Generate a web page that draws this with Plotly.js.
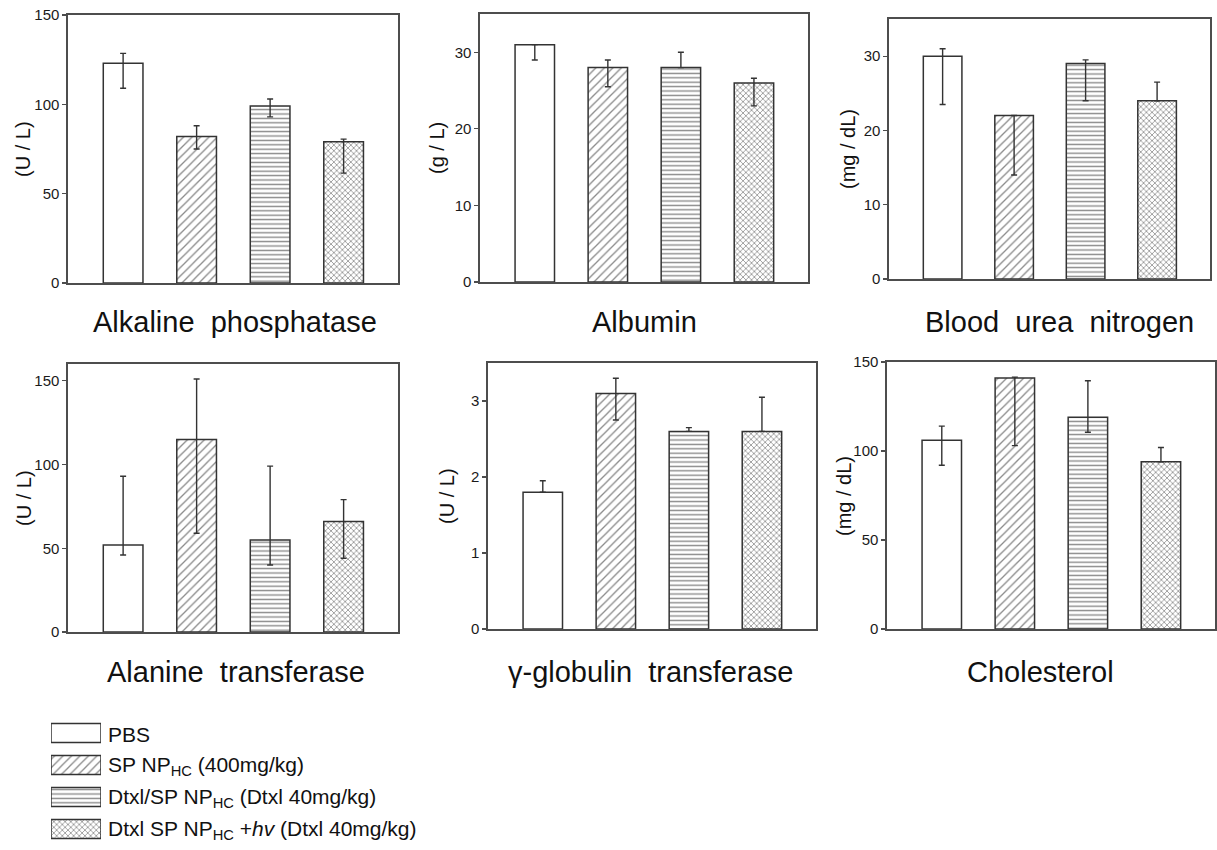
<!DOCTYPE html>
<html>
<head>
<meta charset="utf-8">
<script src="https://cdn.plot.ly/plotly-3.0.1.min.js"></script>
<style>
  html, body { margin: 0; padding: 0; background: #fff; }
  #chart { width: 1217px; height: 850px; }
</style>
</head>
<body>
<div id="chart"></div>
<script>
// Treatment groups (legend order and bar order in every panel)
const groups = [
  'PBS',
  'SP NP<sub>HC</sub> (400mg/kg)',
  'Dtxl/SP NP<sub>HC</sub> (Dtxl 40mg/kg)',
  'Dtxl SP NP<sub>HC</sub> +<i>hv</i> (Dtxl 40mg/kg)'
];

// Panel titles and units
const panelTitles = [
  'Alkaline  phosphatase', 'Albumin', 'Blood  urea  nitrogen',
  'Alanine  transferase', '\u03b3-globulin  transferase', 'Cholesterol'
];
const panelUnits = ['(U / L)', '(g / L)', '(mg / dL)', '(U / L)', '(U / L)', '(mg / dL)'];

// Serum biochemistry: mean values with upper / lower error
const alkalinePhosphatase      = [123, 82, 99, 79];
const alkalinePhosphatasePlus  = [5.5, 6, 4, 1.5];
const alkalinePhosphataseMinus = [14, 7, 6, 17.5];

const albumin      = [31, 28, 28, 26];
const albuminPlus  = [0, 1, 2, 0.6];
const albuminMinus = [2, 2.5, 0, 3];

const bloodUreaNitrogen      = [30, 22, 29, 24];
const bloodUreaNitrogenPlus  = [1, 0, 0.5, 2.5];
const bloodUreaNitrogenMinus = [6.5, 8, 5, 0];

const alanineTransferase      = [52, 115, 55, 66];
const alanineTransferasePlus  = [41, 36, 44, 13];
const alanineTransferaseMinus = [6, 56, 15, 22];

const gammaGlobulin      = [1.8, 3.1, 2.6, 2.6];
const gammaGlobulinPlus  = [0.15, 0.2, 0.05, 0.45];
const gammaGlobulinMinus = [0, 0.35, 0, 0];

const cholesterol      = [106, 141, 119, 94];
const cholesterolPlus  = [8, 0.5, 20.5, 8];
const cholesterolMinus = [14, 38, 8.5, 0];

// Axis ranges / tick steps per panel
const yRanges = [[0, 150], [0, 35], [0, 35], [0, 160], [0, 3.5], [0, 150]];
const yDticks = [50, 10, 10, 50, 1, 50];

const panelData = [
  [alkalinePhosphatase, alkalinePhosphatasePlus, alkalinePhosphataseMinus],
  [albumin, albuminPlus, albuminMinus],
  [bloodUreaNitrogen, bloodUreaNitrogenPlus, bloodUreaNitrogenMinus],
  [alanineTransferase, alanineTransferasePlus, alanineTransferaseMinus],
  [gammaGlobulin, gammaGlobulinPlus, gammaGlobulinMinus],
  [cholesterol, cholesterolPlus, cholesterolMinus]
];

// ---- layout geometry (pixels) ----
const W = 1217, H = 850;
const px = x => x / W;
const py = y => 1 - y / H;

// [left, right, top, bottom] of each plotting area
const boxes = [
  [68, 398, 15, 283],
  [480, 808, 14, 282],
  [889, 1210, 19, 279],
  [68, 398, 364, 632],
  [488, 816, 363, 629],
  [887, 1215, 362, 629]
];
const titlePos = [[235, 322], [644, 322], [1059, 322], [236, 672], [650, 672], [1040, 672]];
const unitPos = [[23, 149], [437, 148], [848, 149], [24, 498], [447, 496], [844, 496]];

const font = '"Liberation Sans", Arial, sans-serif';
const patternShapes = ['', '/', '-', 'x'];
const patternSizes = [6, 6, 4.4, 4];
const patternSolidity = [0.2, 0.22, 0.32, 0.35];

function patternedMarker() {
  return {
    color: '#ffffff',
    line: { color: '#333333', width: 1.5 },
    pattern: {
      shape: patternShapes,
      size: patternSizes,
      solidity: patternSolidity,
      fgcolor: '#8a8a8a',
      bgcolor: '#ffffff',
      fillmode: 'replace'
    }
  };
}

const traces = [];
const layout = {
  width: W, height: H,
  margin: { l: 0, r: 0, t: 0, b: 0 },
  paper_bgcolor: '#ffffff',
  plot_bgcolor: '#ffffff',
  showlegend: false,
  font: { family: font, color: '#111111' },
  annotations: []
};

panelData.forEach((d, i) => {
  const n = i + 1;
  const xa = 'x' + (n === 1 ? '' : n);
  const ya = 'y' + (n === 1 ? '' : n);
  traces.push({
    type: 'bar',
    x: groups,
    y: d[0],
    xaxis: xa, yaxis: ya,
    width: 0.54,
    marker: patternedMarker(),
    error_y: {
      type: 'data', symmetric: false,
      array: d[1], arrayminus: d[2],
      color: '#333333', thickness: 1.4, width: 3
    },
    hoverinfo: 'skip'
  });
  const b = boxes[i];
  layout['xaxis' + (n === 1 ? '' : n)] = {
    domain: [px(b[0]), px(b[1])],
    anchor: ya,
    range: [-0.75, 3.74],
    type: 'category',
    showticklabels: false, ticks: '',
    showgrid: false, zeroline: false,
    showline: true, mirror: true, linecolor: '#4d4d4d', linewidth: 1.6,
    fixedrange: true
  };
  layout['yaxis' + (n === 1 ? '' : n)] = {
    domain: [py(b[3]), py(b[2])],
    anchor: xa,
    range: yRanges[i],
    dtick: yDticks[i],
    tick0: 0,
    ticks: 'outside', ticklen: 4, tickwidth: 1.2, tickcolor: '#4d4d4d',
    tickfont: { family: font, size: 15, color: '#1a1a1a' },
    showgrid: false, zeroline: false,
    showline: true, mirror: true, linecolor: '#4d4d4d', linewidth: 1.6,
    fixedrange: true
  };
  layout.annotations.push({
    text: panelTitles[i], xref: 'paper', yref: 'paper',
    x: px(titlePos[i][0]), y: py(titlePos[i][1]),
    xanchor: 'center', yanchor: 'middle', showarrow: false,
    font: { family: font, size: 29, color: '#111111' }
  });
  layout.annotations.push({
    text: panelUnits[i], xref: 'paper', yref: 'paper',
    x: px(unitPos[i][0]), y: py(unitPos[i][1]),
    xanchor: 'center', yanchor: 'middle', showarrow: false, textangle: -90,
    font: { family: font, size: 20, color: '#111111' }
  });
});

// Legend drawn as a small horizontal bar axis so the swatches carry the same fills
const legendBox = [51, 101, 717, 845];
traces.push({
  type: 'bar', orientation: 'h',
  y: groups, x: groups.map(() => 1),
  xaxis: 'x7', yaxis: 'y7',
  width: 0.6,
  marker: patternedMarker(),
  hoverinfo: 'skip'
});
layout.xaxis7 = {
  domain: [px(legendBox[0]), px(legendBox[1])], anchor: 'y7',
  range: [0, 1], visible: false, fixedrange: true
};
layout.yaxis7 = {
  domain: [py(legendBox[3]), py(legendBox[2])], anchor: 'x7',
  type: 'category', autorange: 'reversed', visible: false, fixedrange: true
};
const legendStep = (legendBox[3] - legendBox[2]) / groups.length;
groups.forEach((g, k) => {
  layout.annotations.push({
    text: g, xref: 'paper', yref: 'paper',
    x: px(106), y: py(legendBox[2] + legendStep * (k + 0.5) + 1),
    xanchor: 'left', yanchor: 'middle', showarrow: false,
    font: { family: font, size: 21, color: '#111111' }
  });
});

Plotly.newPlot('chart', traces, layout, { staticPlot: true, displayModeBar: false });
</script>
</body>
</html>
